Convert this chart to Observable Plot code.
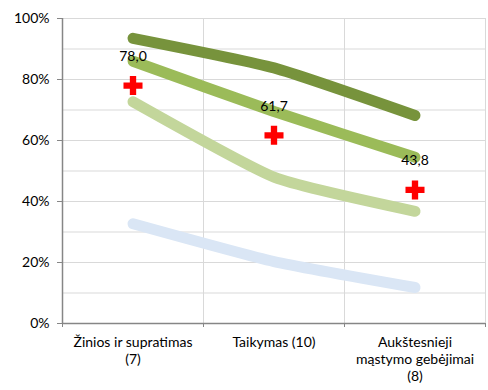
<!DOCTYPE html>
<html>
<head>
<meta charset="utf-8">
<script src="https://cdn.jsdelivr.net/npm/d3@7"></script>
<script src="https://cdn.jsdelivr.net/npm/@observablehq/plot@0.6"></script>
<style>
  html, body { margin: 0; padding: 0; background: #fff; }
  #chart svg { display: block; }
</style>
</head>
<body>
<div id="chart"></div>
<script>
const categories = ["Žinios ir supratimas\n(7)", "Taikymas (10)", "Aukštesnieji\nmąstymo gebėjimai\n(8)"];
const seriesNames = ["s1", "s2", "s3", "s4"];
const seriesColors = ["#77933C", "#9BBB59", "#C3D69B", "#DAE6F5"];
const s1 = [93.5, 83.8, 68.2];
const s2 = [86.0, 69.5, 54.5];
const s3 = [72.7, 48.0, 36.8];
const s4 = [32.7, 20.3, 11.8];
const markerValues = [78.0, 61.7, 43.8];
const yTicks = [0, 20, 40, 60, 80, 100];
const yGrid = [0, 10, 20, 30, 40, 50, 60, 70, 80, 90, 100];

const allSeries = [s1, s2, s3, s4];
const lineData = [];
allSeries.forEach((vals, si) => vals.forEach((v, i) => lineData.push({series: seriesNames[si], i: i + 0.5, v})));
const markerData = markerValues.map((v, i) => ({i: i + 0.5, v}));
const boundaries = d3.range(categories.length + 1);

const font = "Lato, 'Open Sans', sans-serif";

const chart = Plot.plot({
  width: 488,
  height: 390,
  marginLeft: 62,
  marginRight: 3,
  marginTop: 18,
  marginBottom: 67,
  style: {fontFamily: font, fontSize: "14px", color: "#000", background: "#fff"},
  x: {type: "linear", domain: [0, categories.length], axis: null, label: null},
  y: {domain: [0, 100], axis: null, label: null},
  color: {domain: seriesNames, range: seriesColors},
  marks: [
    Plot.ruleY(yGrid, {y: d => d, stroke: "#d9d9d9", strokeWidth: 1}),
    Plot.ruleX(boundaries.slice(1), {x: d => d, stroke: "#d9d9d9", strokeWidth: 1}),
    Plot.ruleX([0], {stroke: "#868686", strokeWidth: 1.5}),
    Plot.ruleY([0], {stroke: "#868686", strokeWidth: 1.5}),
    Plot.axisY({ticks: yTicks, tickSize: 5, tickPadding: 8, stroke: "#868686", label: null, tickFormat: d => d + "%", fontSize: 14, fill: "#000"}),
    Plot.axisX({ticks: boundaries, tickSize: 4, stroke: "#868686", label: null, tickFormat: () => ""}),
    Plot.axisX({ticks: boundaries.slice(0, -1).map(d => d + 0.5), tickSize: 0, tickPadding: 12, label: null,
      tickFormat: d => categories[Math.floor(d)], lineHeight: 1.2, fontSize: 14, fill: "#000"}),
    Plot.line(lineData, {x: "i", y: "v", z: "series", stroke: "series", strokeWidth: 11,
      strokeLinecap: "round", strokeLinejoin: "round", curve: "cardinal", tension: 0.5}),
    Plot.dot(markerData, {x: "i", y: "v", symbol: "cross", r: 8, fill: "#FF0000", stroke: "none"}),
    Plot.text(markerData, {x: "i", y: "v", dy: -29, text: d => d.v.toFixed(1).replace(".", ","), fontSize: 14, fill: "#000"})
  ]
});
document.getElementById("chart").appendChild(chart);
</script>
</body>
</html>
